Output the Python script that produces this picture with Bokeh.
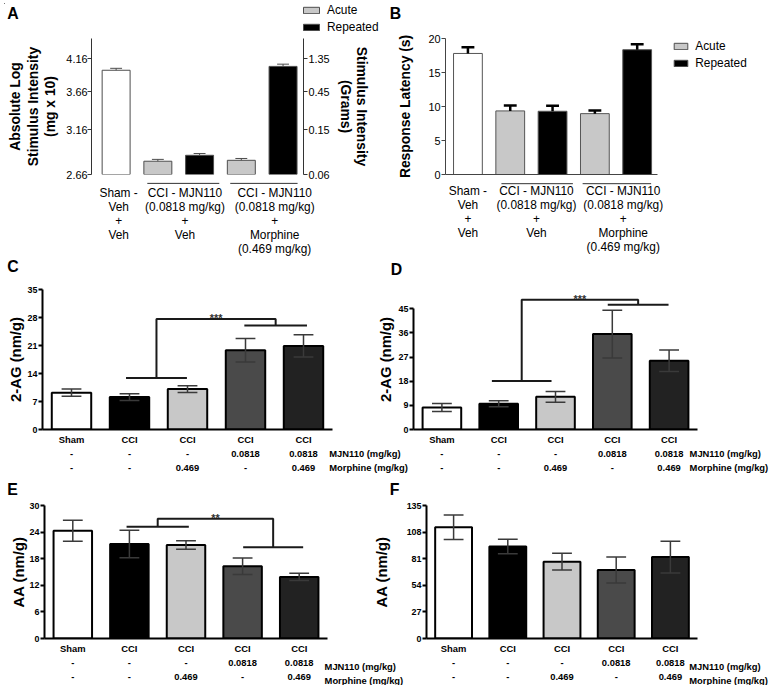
from bokeh.plotting import figure
from bokeh.layouts import row, column
from bokeh.models import (Range1d, FixedTicker, PrintfTickFormatter, LogAxis, Label,
                          Legend, LegendItem, Whisker, TeeHead, ColumnDataSource)
from bokeh.embed import file_html
from bokeh.resources import INLINE

# ------------------------------------------------------------------ data
SERIES = ["Acute", "Repeated"]
AB_X_LABELS = ["Sham -\nVeh\n+\nVeh",
               "CCI - MJN110\n(0.0818 mg/kg)\n+\nVeh",
               "CCI - MJN110\n(0.0818 mg/kg)\n+\nMorphine\n(0.469 mg/kg)"]

A_SHAM = [3.98]
A_SHAM_SEM = [0.03]
A_ACUTE = [2.80, 2.81]
A_ACUTE_SEM = [0.02, 0.02]
A_REPEATED = [2.865, 4.04]
A_REPEATED_SEM = [0.02, 0.035]
A_LEFT_TICKS = [2.66, 3.16, 3.66, 4.16]
A_RIGHT_TICK_LABELS = ["0.06", "0.15", "0.45", "1.35"]
A_LEFT_TITLE = "Absolute Log\nStimulus Intensity\n(mg x 10)"
A_RIGHT_TITLE = "Stimulus Intensity\n(Grams)"

B_SHAM = [17.8]
B_SHAM_SEM = [0.9]
B_ACUTE = [9.35, 8.95]
B_ACUTE_SEM = [0.8, 0.45]
B_REPEATED = [9.3, 18.35]
B_REPEATED_SEM = [0.8, 0.8]
B_TICKS = [0, 5, 10, 15, 20]
B_TITLE = "Response Latency (s)"

ROW_GROUP = ["Sham", "CCI", "CCI", "CCI", "CCI"]
ROW_MJN110 = ["-", "-", "-", "0.0818", "0.0818"]
ROW_MORPHINE = ["-", "-", "0.469", "-", "0.469"]
ROW_TITLES = ["MJN110 (mg/kg)", "Morphine (mg/kg)"]

C_2AG = [9.2, 8.1, 10.1, 19.8, 20.9]
C_2AG_SEM = [0.9, 0.85, 0.85, 2.95, 2.8]
C_TICKS = [0, 7, 14, 21, 28, 35]
D_2AG = [8.2, 9.6, 12.2, 35.6, 25.6]
D_2AG_SEM = [1.5, 1.1, 2.0, 8.9, 4.0]
D_TICKS = [0, 9, 18, 27, 36, 45]
E_AA = [24.3, 21.3, 21.1, 16.3, 13.9]
E_AA_SEM = [2.35, 3.1, 0.95, 1.85, 0.8]
E_TICKS = [0, 6, 12, 18, 24, 30]
F_AA = [113.0, 93.4, 78.0, 69.5, 82.6]
F_AA_SEM = [12.4, 7.3, 8.5, 13.1, 16.1]
F_TICKS = [0, 27, 54, 81, 108, 135]
C_SIG = "***"
D_SIG = "***"
E_SIG = "**"

# ------------------------------------------------------------------ style
S = 0.99
FONT = "Liberation Sans"
AB_COLORS = {"Sham": "#ffffff", "Acute": "#c8c8c8", "Repeated": "#000000"}
AB_EDGE = "#4d4d4d"
LIPID_COLORS = ["#ffffff", "#000000", "#c8c8c8", "#4a4a4a", "#222222"]


def fpx(v):
    return f"{v * S:.2f}px"


def spx(v):
    return v * S


def geom(canvas, frame):
    cx, cy, cw, ch = canvas
    fl, ft, fr, fb = frame
    W, H = round(cw * S), round(ch * S)
    L, T = round((fl - cx) * S), round((ft - cy) * S)
    FW, FH = round((fr - fl) * S), round((fb - ft) * S)
    return dict(width=W, height=H, min_border_left=L, min_border_right=W - L - FW,
                min_border_top=T, min_border_bottom=H - T - FH)


def make_fig(canvas, frame, xr, yr, y_log=False):
    p = figure(output_backend="svg", toolbar_location=None,
               x_range=Range1d(*xr), y_range=Range1d(*yr),
               y_axis_type=("log" if y_log else "linear"), **geom(canvas, frame))
    p.xgrid.visible = False
    p.ygrid.visible = False
    p.outline_line_color = None
    p.border_fill_color = None
    p.background_fill_color = None
    return p


def style_axis(ax, color, lw, size, bold, tick_out, standoff):
    ax.axis_line_color = color
    ax.axis_line_width = lw
    ax.major_tick_line_color = color
    ax.major_tick_line_width = lw
    ax.major_tick_out = tick_out
    ax.major_tick_in = 0
    ax.minor_tick_line_color = None
    ax.minor_tick_out = 0
    ax.major_label_text_font = FONT
    ax.major_label_text_font_size = size
    ax.major_label_text_font_style = "bold" if bold else "normal"
    ax.major_label_text_color = "black"
    ax.major_label_standoff = standoff
    ax.axis_label_text_font = FONT
    ax.axis_label_text_font_style = "bold"
    ax.axis_label_text_color = "black"


def add_errors(p, xs, means, sems, both, head, lw, color):
    lower = [m - s for m, s in zip(means, sems)] if both else list(means)
    upper = [m + s for m, s in zip(means, sems)]
    src = ColumnDataSource(dict(x=xs, lower=lower, upper=upper))
    w = Whisker(source=src, base="x", lower="lower", upper="upper",
                line_color=color, line_width=lw, level="overlay",
                upper_head=TeeHead(size=head, line_color=color, line_width=lw),
                lower_head=(TeeHead(size=head, line_color=color, line_width=lw) if both else None))
    p.add_layout(w)


def to_px(x, xr, frame):
    """data x of a panel -> reference pixel x"""
    return frame[0] + (x - xr[0]) / (xr[1] - xr[0]) * (frame[2] - frame[0])


# ------------------------------------------------------------------ panel A
A_CANVAS, A_FRAME = (0, 0, 390, 258), (86, 35, 302, 175)
A_XR, A_YR = (-0.59, 4.49), (2.66, 4.50)
pA = make_fig(A_CANVAS, A_FRAME, A_XR, A_YR, y_log=True)
sham_x, acute_x, rep_x = [0], [1, 3], [2, 4]
BW = 0.67
baseA = A_LEFT_TICKS[0]
pA.vbar(x=sham_x, top=A_SHAM, bottom=baseA, width=BW, fill_color=AB_COLORS["Sham"],
        line_color=AB_EDGE, line_width=1)
pA.vbar(x=acute_x, top=A_ACUTE, bottom=baseA, width=BW, fill_color=AB_COLORS["Acute"],
        line_color=AB_EDGE, line_width=1)
pA.vbar(x=rep_x, top=A_REPEATED, bottom=baseA, width=BW, fill_color=AB_COLORS["Repeated"],
        line_color=AB_EDGE, line_width=1)
add_errors(pA, sham_x + acute_x + rep_x, A_SHAM + A_ACUTE + A_REPEATED,
           A_SHAM_SEM + A_ACUTE_SEM + A_REPEATED_SEM, False, spx(12), 1, AB_EDGE)

ay = pA.yaxis[0]
ay.ticker = FixedTicker(ticks=A_LEFT_TICKS)
ay.formatter = PrintfTickFormatter(format="%.2f")
ay.bounds = A_YR
style_axis(ay, "#333333", 1, fpx(11), False, round(spx(4)), 0)
ay.axis_label = A_LEFT_TITLE
ay.axis_label_text_font_size = fpx(14)
ay.axis_label_text_line_height = 1.1
ay.axis_label_standoff = round(spx(5))

ayr = LogAxis(ticker=FixedTicker(ticks=A_LEFT_TICKS),
              major_label_overrides=dict(zip(A_LEFT_TICKS, A_RIGHT_TICK_LABELS)),
              bounds=A_YR)
style_axis(ayr, "#333333", 1, fpx(11), False, round(spx(4)), round(spx(1)))
ayr.axis_label = A_RIGHT_TITLE
ayr.axis_label_text_font_size = fpx(14)
ayr.axis_label_text_line_height = 1.0
ayr.axis_label_standoff = round(spx(5))
pA.add_layout(ayr, "right")

A_X_TICKS = [0.06, 1.65, 3.8]
axA = pA.xaxis[0]
axA.ticker = FixedTicker(ticks=A_X_TICKS)
axA.major_label_overrides = dict(zip(A_X_TICKS, AB_X_LABELS))
style_axis(axA, None, 1, fpx(12), False, 0, round(spx(11)))
axA.major_label_text_line_height = 1.0

# ------------------------------------------------------------------ panel B
B_CANVAS, B_FRAME = (390, 0, 385, 258), (446, 35, 660, 177)
B_XR, B_YR = (-0.53, 4.48), (0, 20)
pB = make_fig(B_CANVAS, B_FRAME, B_XR, B_YR)
pB.vbar(x=sham_x, top=B_SHAM, bottom=0, width=0.68, fill_color=AB_COLORS["Sham"],
        line_color="#555555", line_width=1)
pB.vbar(x=acute_x, top=B_ACUTE, bottom=0, width=0.68, fill_color=AB_COLORS["Acute"],
        line_color="#555555", line_width=1)
pB.vbar(x=rep_x, top=B_REPEATED, bottom=0, width=0.68, fill_color=AB_COLORS["Repeated"],
        line_color="#555555", line_width=1)
add_errors(pB, sham_x + acute_x + rep_x, B_SHAM + B_ACUTE + B_REPEATED,
           B_SHAM_SEM + B_ACUTE_SEM + B_REPEATED_SEM, False, spx(13), 2.5, "black")

by = pB.yaxis[0]
by.ticker = FixedTicker(ticks=B_TICKS)
by.bounds = (B_TICKS[0], B_TICKS[-1])
style_axis(by, "#444444", 1, fpx(11), False, round(spx(4)), round(spx(1)))
by.axis_label = B_TITLE
by.axis_label_text_font_size = fpx(14)
by.axis_label_standoff = round(spx(12))

B_X_TICKS = [0.0, 1.62, 3.67]
bx = pB.xaxis[0]
bx.ticker = FixedTicker(ticks=B_X_TICKS)
bx.major_label_overrides = dict(zip(B_X_TICKS, AB_X_LABELS))
style_axis(bx, "#444444", 1, fpx(12), False, 0, round(spx(9)))
bx.major_tick_line_color = None
bx.major_label_text_line_height = 1.0

# ------------------------------------------------------------------ panels C-F
ROW_OFFSETS = [22.8, 37.0]


def lipid_panel(canvas, frame, y_end, ticks, means, sems, ylabel, lab_standoff, sig=None):
    p = make_fig(canvas, frame, (-0.5, 4.5), (0, y_end))
    xs = list(range(len(means)))
    p.vbar(x=xs, top=means, bottom=0, width=0.68, fill_color=LIPID_COLORS,
           line_color="black", line_width=2)
    add_errors(p, xs, means, sems, True, spx(20), 1.5, "#3a3a3a")

    yax = p.yaxis[0]
    yax.ticker = FixedTicker(ticks=ticks)
    yax.bounds = (0, ticks[-1])
    style_axis(yax, "black", 2, fpx(9), True, round(spx(4)), round(spx(1)))
    yax.axis_label = ylabel
    yax.axis_label_text_font_size = fpx(15)
    yax.axis_label_text_line_height = 1.0
    yax.axis_label_standoff = lab_standoff

    xax = p.xaxis[0]
    xax.ticker = FixedTicker(ticks=xs)
    xax.major_label_overrides = {i: "\n".join([ROW_GROUP[i], ROW_MJN110[i], ROW_MORPHINE[i]])
                                 for i in xs}
    style_axis(xax, "black", 2, fpx(9.5), True, 0, round(spx(4)))
    xax.major_tick_line_color = None
    xax.major_label_text_line_height = 1.3

    if sig is not None:
        (l0, l1, yl_), (r0, r1, yr_), ytop, text = sig
        ml, mr = (l0 + l1) / 2, (r0 + r1) / 2
        p.multi_line(xs=[[l0, l1], [ml, ml, mr, mr], [r0, r1]],
                     ys=[[yl_, yl_], [yl_, ytop, ytop, yr_], [yr_, yr_]],
                     line_color="#1a1a1a", line_width=2)
        p.add_layout(Label(x=(ml + mr) / 2, y=ytop, y_offset=spx(1), text=text,
                           text_align="center", text_baseline="alphabetic",
                           text_font=FONT, text_font_style="bold",
                           text_font_size=fpx(11), text_color="#333333"))
    return p


C_CANVAS, C_FRAME = (0, 258, 412, 220), (36, 289.3, 331, 431.7)
D_CANVAS, D_FRAME = (370, 258, 405, 220), (413.3, 270, 700, 431.7)
E_CANVAS, E_FRAME = (0, 478, 412, 211), (40.7, 506.7, 326.7, 646.7)
F_CANVAS, F_FRAME = (370, 478, 405, 211), (414, 507.7, 700, 646.7)

pC = lipid_panel(C_CANVAS, C_FRAME, 35, C_TICKS, C_2AG, C_2AG_SEM, "2-AG (nm/g)", 1,
                 ((0.94, 1.99, 12.9), (2.98, 4.06, 26.0), 27.6, C_SIG))
pD = lipid_panel(D_CANVAS, D_FRAME, 52.2, D_TICKS, D_2AG, D_2AG_SEM, "2-AG (nm/g)", 2,
                 ((0.88, 1.93, 18.1), (2.92, 3.99, 46.5), 48.4, D_SIG))
pE = lipid_panel(E_CANVAS, E_FRAME, 30, E_TICKS, E_AA, E_AA_SEM, "AA (nm/g)", 0,
                 ((0.95, 2.05, 25.2), (3.01, 4.07, 20.6), 27.0, E_SIG))
pF = lipid_panel(F_CANVAS, F_FRAME, 135, F_TICKS, F_AA, F_AA_SEM, "AA (nm/g)", 14)

overlap = round(412 * S) - round(370 * S)
pD.margin = (0, 0, 0, -overlap)
pF.margin = (0, 0, 0, -overlap)

# ------------------------------------------------------------------ overlay (letters, legends,
# row titles and group underlines that sit outside the plot frames)
OV_W = round(775 * S)
OV_H = round(258 * S) + round(220 * S) + round(211 * S)
ov = figure(output_backend="svg", toolbar_location=None, width=OV_W, height=OV_H,
            x_range=Range1d(0, OV_W / S), y_range=Range1d(OV_H / S, 0),
            x_axis_location=None, y_axis_location=None,
            min_border_left=0, min_border_right=0, min_border_top=0, min_border_bottom=0)
ov.xgrid.visible = False
ov.ygrid.visible = False
ov.outline_line_color = None
ov.border_fill_color = None
ov.background_fill_color = None


def ov_text(x, y, text, size, bold, align="center"):
    ov.add_layout(Label(x=x, y=y, text=text, text_align=align, text_baseline="middle",
                        text_font=FONT, text_font_style=("bold" if bold else "normal"),
                        text_font_size=fpx(size), text_color="black"))


for letter, (lx, ly) in zip("ABCDEF", [(8.5, 10), (395, 10), (8.5, 266), (396, 269),
                                        (8, 491), (394, 491)]):
    ov_text(lx, ly, letter, 16, True)

for frame, row_x in [(C_FRAME, 328), (D_FRAME, 692), (E_FRAME, 323.3), (F_FRAME, 691.7)]:
    for title, dy in zip(ROW_TITLES, ROW_OFFSETS):
        ov_text(row_x, frame[3] + dy, title, 9.5, True, align="left")

# group underlines under the CCI groups of panels A and B
for frame, xr, yline, spans in [(A_FRAME, A_XR, 181.7, [(0.78, 2.49), (2.75, 4.35)]),
                                 (B_FRAME, B_XR, 182.0, [(0.78, 2.47), (2.70, 4.32)])]:
    ov.multi_line(xs=[[to_px(a, xr, frame), to_px(b, xr, frame)] for a, b in spans],
                  ys=[[yline, yline] for _ in spans], line_color="#333333", line_width=1)

# legends for panels A and B (swatch renderers sit outside the visible range)
for (gx, gw, bottom) in [(300, 20, 31), (675, 17, 68)]:
    swatches = [ov.vbar(x=[-500], top=[-500], bottom=[-510], width=1,
                        fill_color=AB_COLORS[s], line_color=AB_EDGE, line_width=1)
                for s in SERIES]
    leg = Legend(items=[LegendItem(label=s, renderers=[r]) for s, r in zip(SERIES, swatches)],
                 location=(gx * S, OV_H - bottom * S), orientation="vertical",
                 glyph_width=round(spx(gw)), glyph_height=round(spx(8)),
                 label_height=round(spx(14)), label_width=10,
                 spacing=round(spx(3)), padding=0, margin=0,
                 label_standoff=round(spx(6)),
                 border_line_color=None, background_fill_alpha=0,
                 label_text_font=FONT, label_text_font_size=fpx(12),
                 label_text_color="black")
    ov.add_layout(leg)

ov.margin = (-OV_H, 0, 0, 0)

layout = column(row(pA, pB), row(pC, pD), row(pE, pF), ov)
layout.margin = (3, 0, 0, 4)
open("out.html", "w").write(file_html(layout, INLINE, title="Figure"))
